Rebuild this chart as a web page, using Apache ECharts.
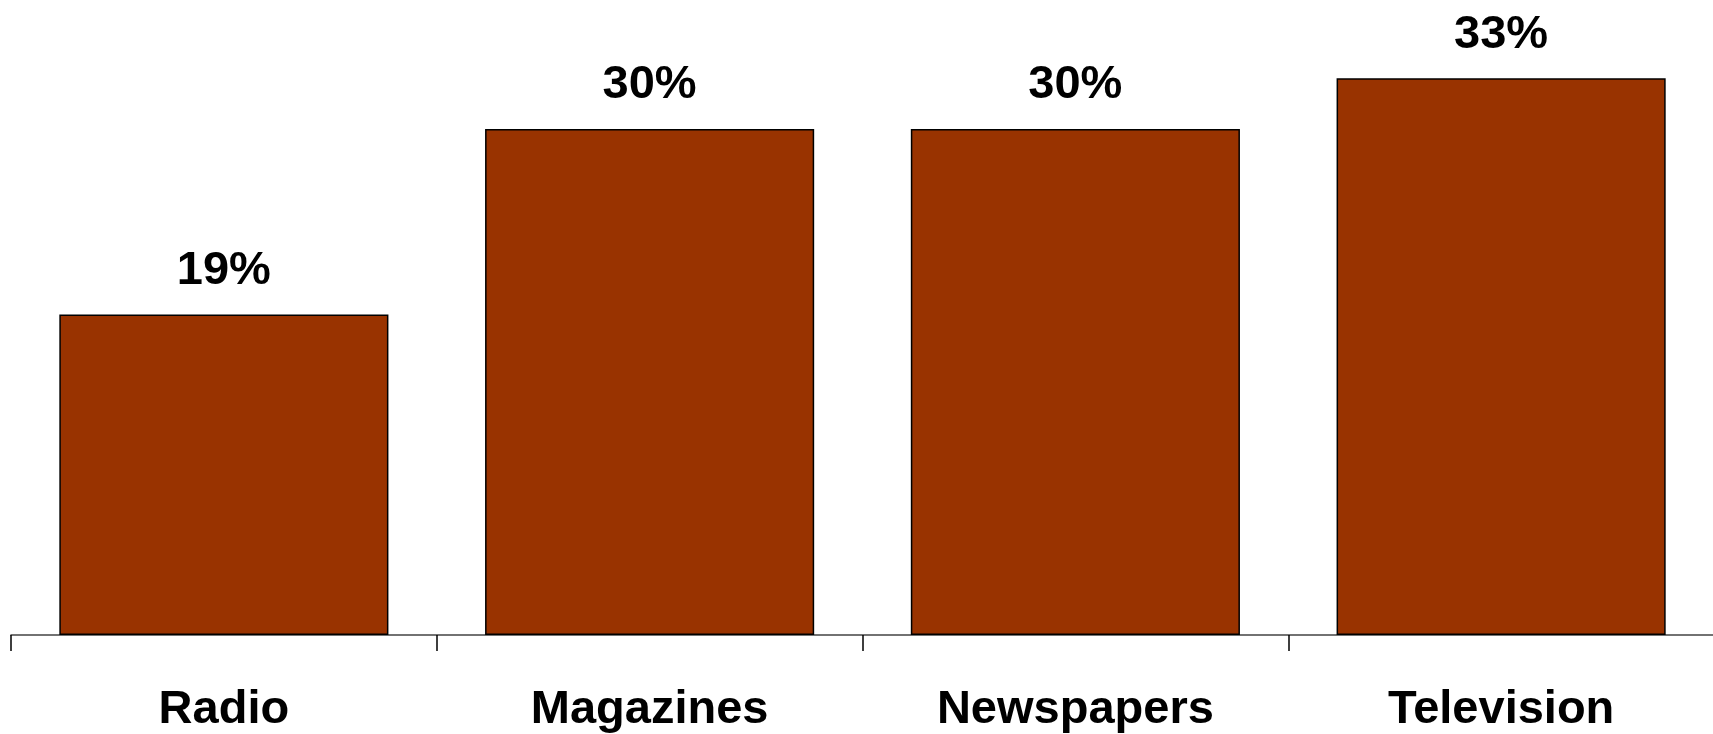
<!DOCTYPE html>
<html>
<head>
<meta charset="utf-8">
<script src="https://cdn.jsdelivr.net/npm/echarts@6/dist/echarts.min.js"></script>
<style>
  html, body { margin: 0; padding: 0; background: #fff; }
  #container { width: 1713px; height: 734px; }
</style>
</head>
<body>
<div id="container"></div>
<script>
"use strict";

const categories = ['Radio', 'Magazines', 'Newspapers', 'Television'];
const shares = [19, 30, 30, 33];

let myChart = echarts.init(document.getElementById('container'));

let option = {
  animation: false,
  grid: {
    left: 11,
    right: -1,
    top: 0,
    bottom: 99,
    containLabel: false,
    outerBoundsMode: 'none',
  },
  xAxis: {
    type: 'category',
    data: categories,
    axisLine: {
      lineStyle: { color: '#444', width: 1.5 },
    },
    axisTick: {
      show: true,
      alignWithLabel: false,
      length: 16,
      lineStyle: { color: '#000', width: 1.5 },
    },
    axisLabel: {
      margin: 52,
      color: '#000',
      fontFamily: 'Liberation Sans',
      fontWeight: 'bold',
      fontSize: 47,
    },
  },
  yAxis: {
    type: 'value',
    min: 0,
    max: 37.64,
    show: false,
    splitLine: { show: false },
  },
  series: [
    {
      type: 'bar',
      data: shares,
      barWidth: '77.3%',
      itemStyle: {
        color: '#993300',
        borderColor: '#000',
        borderWidth: 1.5,
      },
      label: {
        show: true,
        position: 'top',
        distance: 20,
        formatter: '{c}%',
        color: '#000',
        fontFamily: 'Liberation Sans',
        fontWeight: 'bold',
        fontSize: 47,
      },
    },
  ],
};

myChart.setOption(option);
</script>
</body>
</html>
